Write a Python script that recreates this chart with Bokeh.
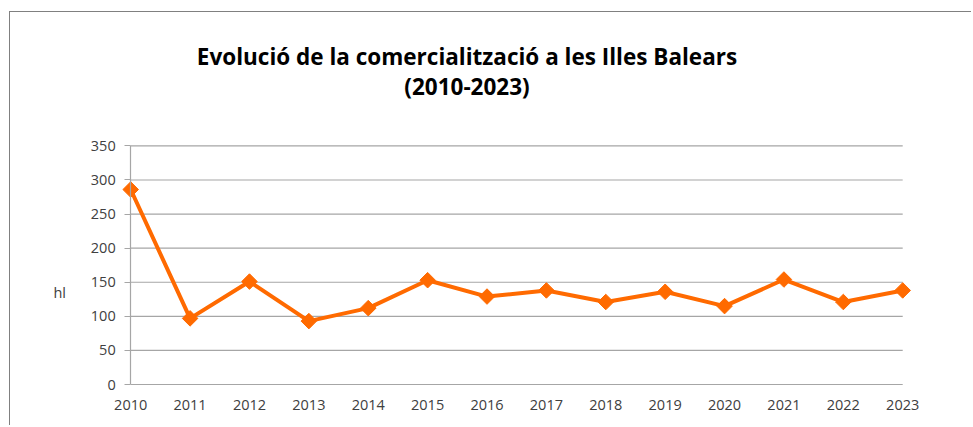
import numpy as np
from bokeh.plotting import figure
from bokeh.models import Label, FixedTicker, Range1d
from bokeh.embed import file_html
from bokeh.resources import INLINE

years = [2010, 2011, 2012, 2013, 2014, 2015, 2016, 2017, 2018, 2019, 2020, 2021, 2022, 2023]
hl = [286, 97, 151, 93, 112, 153, 129, 138, 121, 136, 115, 154, 121, 138]
y_ticks = [0, 50, 100, 150, 200, 250, 300, 350]
title_lines = ["Evolució de la comercialització a les Illes Balears", "(2010-2023)"]
y_label = "hl"

ORANGE = "#FF6A00"
GRID = "#A6A6A6"
FONT = "Open Sans"

# geometry (pixels) of the canvas and target positions
W, H = 962, 414
MB_L, MB_R, MB_T, MB_B = 2, 10, 0, 2
frame_w = W - MB_L - MB_R
frame_h = H - MB_T - MB_B
px_year = 59.385
px_unit = 0.6817
x0_off = 118.2           # pixels from frame left to first year
zero_px = 372.0          # pixels from frame top to the zero line
x_start = years[0] - x0_off / px_year
x_end = x_start + frame_w / px_year
y_end = zero_px / px_unit
y_start = -(frame_h - zero_px) / px_unit

p = figure(width=W, height=H, output_backend="svg", toolbar_location=None,
           x_range=Range1d(x_start, x_end), y_range=Range1d(y_start, y_end),
           min_border_left=MB_L, min_border_right=MB_R,
           min_border_top=MB_T, min_border_bottom=MB_B)
p.styles = {"border-top": "1.5px solid #808080", "border-left": "1.5px solid #808080",
            "margin-left": "9px", "margin-top": "11px"}
p.outline_line_color = None
p.background_fill_color = "white"
p.border_fill_color = "white"
p.grid.visible = False

# horizontal gridlines at the y ticks, spanning the data years
p.segment(x0=[years[0]] * len(y_ticks), x1=[years[-1]] * len(y_ticks),
          y0=y_ticks, y1=y_ticks, line_color=GRID, line_width=1.2)

p.yaxis.fixed_location = years[0]
p.yaxis.bounds = (y_ticks[0], y_ticks[-1])
p.yaxis.ticker = FixedTicker(ticks=y_ticks)
p.yaxis.axis_line_color = GRID
p.yaxis.axis_line_width = 1.2
p.yaxis.major_tick_line_color = GRID
p.yaxis.major_tick_line_width = 1.2
p.yaxis.major_tick_out = 6
p.yaxis.major_tick_in = 0
p.yaxis.minor_tick_line_color = None
p.yaxis.major_label_standoff = 9
p.yaxis.major_label_text_font = FONT
p.yaxis.major_label_text_font_size = "14.5px"
p.yaxis.major_label_text_color = "#404040"

p.xaxis.fixed_location = y_ticks[0]
p.xaxis.ticker = FixedTicker(ticks=years)
p.xaxis.axis_line_color = None
p.xaxis.major_tick_line_color = None
p.xaxis.minor_tick_line_color = None
p.xaxis.major_tick_out = 0
p.xaxis.major_tick_in = 0
p.xaxis.major_label_standoff = 15
p.xaxis.major_label_text_font = FONT
p.xaxis.major_label_text_font_size = "14.5px"
p.xaxis.major_label_text_color = "#404040"

p.line(years, hl, line_color=ORANGE, line_width=4)
p.scatter(years, hl, marker="square", angle=np.pi / 4, size=11,
          fill_color=ORANGE, line_color=ORANGE)

p.add_layout(Label(x=2015.663, y=481, text=title_lines[0], text_align="center",
                   text_baseline="alphabetic", text_font=FONT, text_font_style="bold",
                   text_font_size="22.5px", text_color="black"))
p.add_layout(Label(x=2015.663, y=436.5, text=title_lines[1], text_align="center",
                   text_baseline="alphabetic", text_font=FONT, text_font_style="bold",
                   text_font_size="22.5px", text_color="black"))
p.add_layout(Label(x=2008.804, y=135.6, text=y_label, text_align="center",
                   text_baseline="alphabetic", text_font=FONT,
                   text_font_size="14.5px", text_color="#404040"))

open("out.html", "w").write(file_html(p, INLINE))
